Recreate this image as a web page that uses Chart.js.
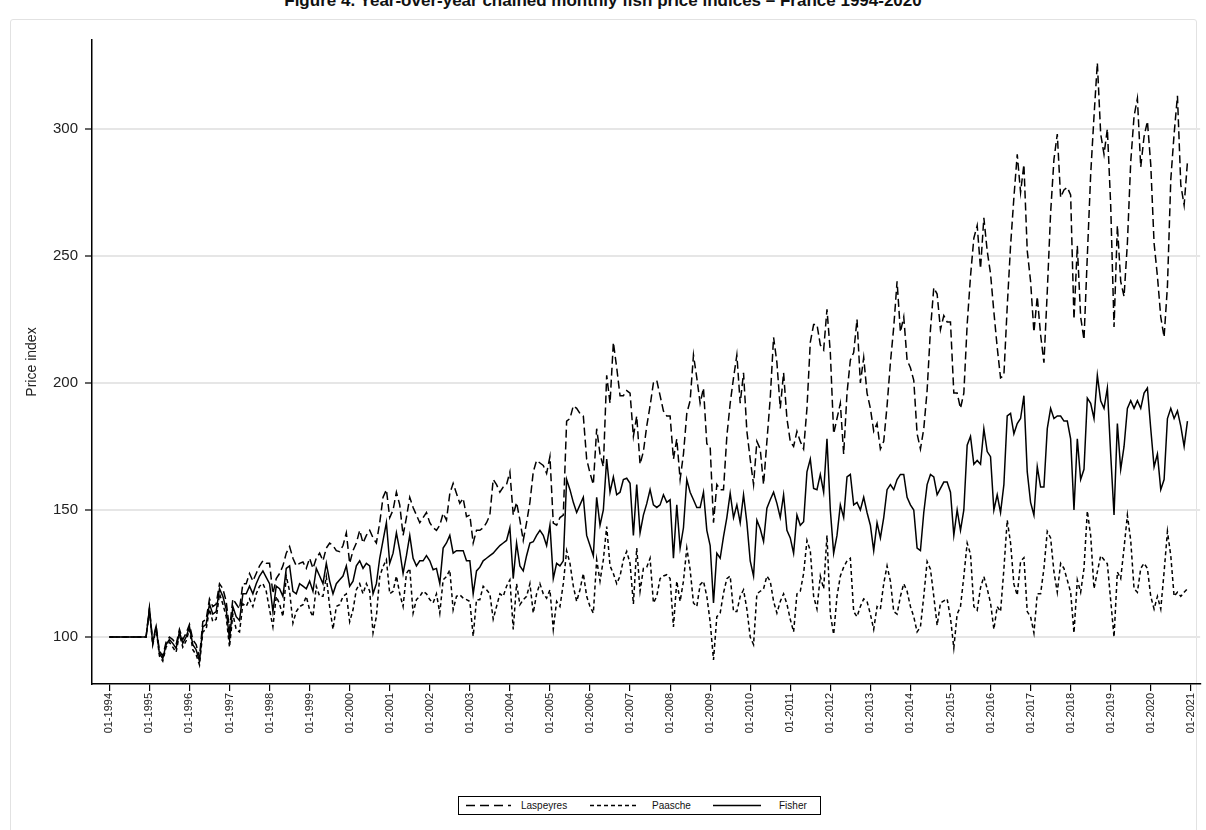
<!DOCTYPE html>
<html>
<head>
<meta charset="utf-8">
<script src="https://cdn.jsdelivr.net/npm/chart.js@4.4.0/dist/chart.umd.min.js"></script>
<style>
  html, body { margin: 0; padding: 0; background: #fff; }
  body { width: 1206px; height: 830px; position: relative; overflow: hidden; font-family: "Liberation Sans", Arial, sans-serif; }
  .frame { position: absolute; left: 10px; top: 19px; width: 1185px; height: 840px; border: 1px solid #e2e2e2; border-radius: 3px; }
  .title { position: absolute; left: 0; top: -9px; width: 1206px; text-align: center; font: bold 17px/20px "Liberation Sans", Arial, sans-serif; color: #111; white-space: nowrap; }
  .wrap { position: absolute; left: 0; top: 0; width: 1206px; height: 740px; }
  .legend { position: absolute; left: 458px; top: 796px; width: 361px; height: 17px; border: 1px solid #000; font-size: 10px; color: #111; background: #fff; }
  .legend svg { position: absolute; top: 0; left: 0; }
  .legend span { position: absolute; top: 3px; }
</style>
</head>
<body>
<div class="frame"></div>
<div class="title">Figure 4. Year-over-year chained monthly fish price indices – France 1994-2020</div>
<div class="wrap"><canvas id="priceChart" width="1206" height="740"></canvas></div>
<div class="legend">
  <svg width="361" height="17">
    <line x1="7" y1="8.5" x2="52" y2="8.5" stroke="#000" stroke-width="1.3" stroke-dasharray="9 5"/>
    <line x1="131" y1="8.5" x2="178" y2="8.5" stroke="#000" stroke-width="1.3" stroke-dasharray="4 3"/>
    <line x1="254" y1="8.5" x2="302" y2="8.5" stroke="#000" stroke-width="1.3"/>
  </svg>
  <span style="left:62px">Laspeyres</span>
  <span style="left:193px">Paasche</span>
  <span style="left:320px">Fisher</span>
</div>
<script>
// monthly index values, Jan 1994 .. Dec 2020 (one line per year)
const laspeyres = [
  100, 100, 100, 100, 100, 100, 100, 100, 100, 100, 100, 100,
  111.5, 98, 104.5, 94.5, 92.5, 98, 100, 99, 97, 103, 99, 101.5,
  105, 99, 97, 92, 106, 107, 115, 112, 113, 121, 119, 114,
  103, 115, 113, 111, 121, 121, 125, 122, 125, 128, 130, 129,
  129, 117, 123, 125, 128, 133, 135.6, 131, 128, 129, 129.5, 127,
  131, 127, 131, 133, 130, 135, 137, 136, 134, 133.6, 136, 141,
  129, 134, 137, 142, 137, 140, 142, 139, 137, 145, 155, 158,
  147, 150, 157, 152, 140, 147, 155, 151, 148, 145, 147, 149,
  145, 143, 142, 144, 148.7, 146, 156.5, 160.5, 156.5, 152.6, 154.6, 147.4,
  148, 137, 142, 142, 143, 145, 148, 162, 160, 157, 159, 160,
  165, 148, 153, 146, 138, 145, 153, 165, 169.5, 168.5, 167.5, 164.4,
  171, 144.8, 144, 147, 148, 185, 186, 191, 190, 188, 187, 170,
  164.5, 160, 182, 172, 167, 203, 192, 216, 206, 195, 195, 197,
  196, 179, 187, 168, 173, 183, 191, 200, 201, 195, 189, 187,
  187, 170, 178, 162, 172, 188, 193, 211, 202, 192, 198, 176,
  175, 145, 160, 158, 158, 179, 192, 202, 211, 192, 204, 181,
  170, 160, 177, 174, 160, 177, 194, 218, 208, 190, 204, 186,
  177, 175, 181, 177, 174, 190, 216, 223, 223, 215, 213, 229,
  212, 180, 186, 192, 172, 196, 209, 212, 225, 200, 210, 196,
  190, 181, 184, 174, 177, 191, 208, 222, 240, 220, 226, 209,
  206, 201, 180, 174, 182, 197, 221, 237.5, 235, 221, 226.5, 224,
  224, 196, 196, 190, 196, 223, 242, 257, 262, 245, 265, 252,
  243, 228, 214, 202, 203, 230, 254, 273, 290, 275, 286, 252,
  240, 220, 234, 219, 208, 236, 267, 288, 298, 273, 276, 277,
  274, 225, 254, 226, 217, 250, 282, 305, 326, 298, 290, 300,
  270, 222, 262, 240, 234, 255, 287, 305, 312, 285, 297, 303,
  286, 255, 242, 226, 218, 238, 280, 298, 313, 278, 270, 287
];

const paasche = [
  100, 100, 100, 100, 100, 100, 100, 100, 100, 100, 100, 100,
  110.5, 97, 103.5, 92.5, 90.5, 96, 98, 96, 94, 101, 96, 98.5,
  103, 95, 93, 89, 102, 103, 111, 106, 107, 117, 113, 108,
  96, 109, 103, 102, 113, 112, 115, 112, 117, 120, 121, 118,
  110.7, 104, 116, 113, 108, 124, 118, 105.5, 110, 112, 112.7, 116,
  110.7, 108, 120, 116, 116, 123.8, 112, 103, 112, 112.7, 116, 117,
  106, 110.7, 118.6, 121, 117, 121, 118, 101.6, 108, 123.8, 127.7, 130.4,
  117, 118, 124, 117, 112, 125, 127, 109.4, 114.7, 116, 118, 117,
  114.7, 113.4, 117, 109.4, 122.5, 123.8, 126.4, 110.7, 116, 116.6, 115.3, 114.7,
  114, 100.3, 114.7, 114.7, 120, 118.6, 117, 107, 112, 117, 116, 120,
  122.5, 103, 121, 112.7, 114.7, 116, 121, 109.4, 117, 121, 117, 115.3,
  118.6, 103, 114, 112, 121, 134, 129, 120, 114, 118.6, 125, 116,
  112, 109.4, 130.4, 122, 130.4, 143.5, 128, 125, 121, 124, 130.4, 133.7,
  129, 113, 135, 118, 127, 127.5, 131, 113.4, 116, 123, 124, 124.5,
  123, 104, 122, 114, 122, 135, 126.5, 113.4, 112, 120.6, 122, 116,
  106, 91, 108, 109.4, 117.3, 123, 124, 110, 110, 116, 118.6, 111,
  100, 97, 117, 118, 119, 124, 122, 114, 109.4, 114, 117, 113,
  107, 102, 117, 118, 125, 138, 134, 116, 111, 124, 119, 140,
  109, 101, 116, 124, 127.5, 130, 131, 110, 108, 112, 115, 114,
  109, 103, 112, 111, 121, 128, 122, 110, 109, 116, 121, 118,
  112, 108, 102, 104, 116, 129.7, 126.7, 116, 104.6, 113.4, 114.2, 115,
  107.5, 95.7, 109, 112, 123.8, 137, 132.6, 112, 110.5, 119.4, 123.8, 119,
  113.4, 103, 112, 110, 126.7, 146, 137, 120.8, 116.4, 129.7, 131.2, 110,
  108, 101.6, 117, 117, 127, 141.6, 139, 125.6, 117.6, 129, 127, 122.4,
  117.6, 101.6, 122.4, 117.6, 127, 149.6, 140, 119, 125.6, 132, 130.4, 128.8,
  114.4, 100, 125.6, 123, 135, 148, 138, 119, 117.6, 127, 129, 127,
  116, 111, 116, 111, 125.6, 141.6, 132, 116, 117.6, 116, 117.6, 119
];

const fisher = [
  100, 100, 100, 100, 100, 100, 100, 100, 100, 100, 100, 100,
  111, 97.5, 104, 93.5, 91.5, 97, 99, 97.5, 95.5, 102, 97.5, 100,
  104, 97, 95, 90.5, 104, 105, 113, 109, 110, 119, 116, 111,
  99, 112, 108, 106.5, 117, 117, 120, 117, 121, 124, 126, 123.5,
  121, 110, 120, 119, 116, 127, 128, 118, 117, 121, 120, 119,
  122, 118, 127, 124, 121, 129, 122, 117, 121, 122.5, 124, 128,
  120, 122, 128, 130, 127, 129, 128, 117, 121, 131, 138, 145,
  129, 133, 141, 134, 125, 132, 140, 131, 128, 130, 130, 132,
  130, 126.5, 127, 121, 135, 137, 140, 133, 134, 134, 134, 130,
  130, 117, 126, 127.5, 130, 131, 132, 133, 134.5, 136, 137, 138,
  143, 123, 137, 128, 126, 132, 137, 137.5, 140, 142, 140, 136,
  144, 123, 129, 128, 130, 162, 158, 153, 149, 152, 155, 140,
  136, 132, 155, 144, 150, 170, 157, 163, 156, 157, 162, 162.5,
  160.5, 140, 160, 141, 148, 152.5, 158, 152, 151, 152, 156, 153,
  154, 131, 152, 135, 143, 162, 157, 154, 151, 151, 157, 142,
  136, 113.4, 133, 131, 139.5, 147, 156.6, 147, 152, 145, 156, 145,
  130, 124, 146, 142.6, 137.6, 150.7, 154, 157, 152.6, 147, 156, 142,
  139, 133, 148, 144, 145.4, 165, 170, 158.5, 158, 164, 157, 178,
  150, 133, 140, 152, 147, 163, 164, 152, 153, 150, 155, 149,
  144, 134, 145, 139, 147, 158, 160, 158, 162, 164, 164, 155,
  152, 150, 135, 134, 149, 160, 164, 163, 156, 158.5, 161, 161,
  157, 140, 150, 142, 150, 175.5, 179, 168, 169.5, 168, 182, 173,
  171, 150, 156, 149, 160, 187, 188, 180, 184, 186, 195, 165,
  153, 148, 167, 159, 159, 182, 190, 186, 187, 187, 185, 185,
  178, 150, 178, 162, 166, 194, 192, 186, 203, 193, 190, 198,
  172, 148, 184, 166, 175, 190, 193, 190, 193, 190, 196, 198,
  182, 167, 172, 158, 162, 186, 190, 186, 189, 183, 175, 185
];

const tickLabels = [
  "01-1994", "01-1995", "01-1996", "01-1997", "01-1998", "01-1999", "01-2000",
  "01-2001", "01-2002", "01-2003", "01-2004", "01-2005", "01-2006", "01-2007",
  "01-2008", "01-2009", "01-2010", "01-2011", "01-2012", "01-2013", "01-2014",
  "01-2015", "01-2016", "01-2017", "01-2018", "01-2019", "01-2020", "01-2021"
];
const yTicks = [100, 150, 200, 250, 300];

// month index on x (0 = Jan 1994)
function toPoints(arr) {
  return arr.map((v, i) => ({ x: i, y: v }));
}

const ctx = document.getElementById("priceChart");

const myChart = new Chart(ctx, {
  type: "line",
  data: {
    datasets: [
      {
        label: "Laspeyres",
        data: toPoints(laspeyres),
        borderColor: "#000",
        borderWidth: 1.5,
        borderDash: [8, 4],
        pointRadius: 0,
        tension: 0,
      },
      {
        label: "Paasche",
        data: toPoints(paasche),
        borderColor: "#000",
        borderWidth: 1.5,
        borderDash: [4, 3],
        pointRadius: 0,
        tension: 0,
      },
      {
        label: "Fisher",
        data: toPoints(fisher),
        borderColor: "#000",
        borderWidth: 1.5,
        pointRadius: 0,
        tension: 0,
      },
    ],
  },
  options: {
    responsive: false,
    animation: false,
    layout: { padding: { top: 40, right: 0, bottom: 0, left: 0 } },
    plugins: {
      legend: { display: false },
      tooltip: { enabled: false },
    },
    scales: {
      x: {
        type: "linear",
        min: -5.2,
        max: 326.8,
        afterBuildTicks: (s) => {
          s.ticks = tickLabels.map((t, i) => ({ value: i * 12 }));
        },
        afterFit: (s) => {
          s.height = 56;
        },
        ticks: {
          autoSkip: false,
          minRotation: 90,
          maxRotation: 90,
          padding: 2,
          color: "#222",
          font: { family: "Liberation Sans", size: 11 },
          callback: (v) => tickLabels[Math.round(v / 12)],
        },
        grid: {
          drawOnChartArea: false,
          drawTicks: true,
          tickLength: 7,
          color: "#000",
          lineWidth: 1.2,
        },
        border: { color: "#000", width: 1.5 },
      },
      y: {
        min: 81.5,
        max: 335,
        afterBuildTicks: (s) => {
          s.ticks = yTicks.map((v) => ({ value: v }));
        },
        afterFit: (s) => {
          s.width = 92;
        },
        ticks: {
          padding: 7,
          color: "#222",
          font: { family: "Liberation Sans", size: 15 },
        },
        grid: {
          color: "#e6e6e6",
          lineWidth: 2,
          tickColor: "#000",
          tickLength: 7,
          tickWidth: 1.2,
        },
        border: { color: "#000", width: 1.5 },
        title: {
          display: true,
          text: "Price index",
          color: "#222",
          font: { family: "Liberation Sans", size: 14 },
          padding: { top: 24, bottom: 0 },
        },
      },
    },
  },
});
</script>
</body>
</html>
